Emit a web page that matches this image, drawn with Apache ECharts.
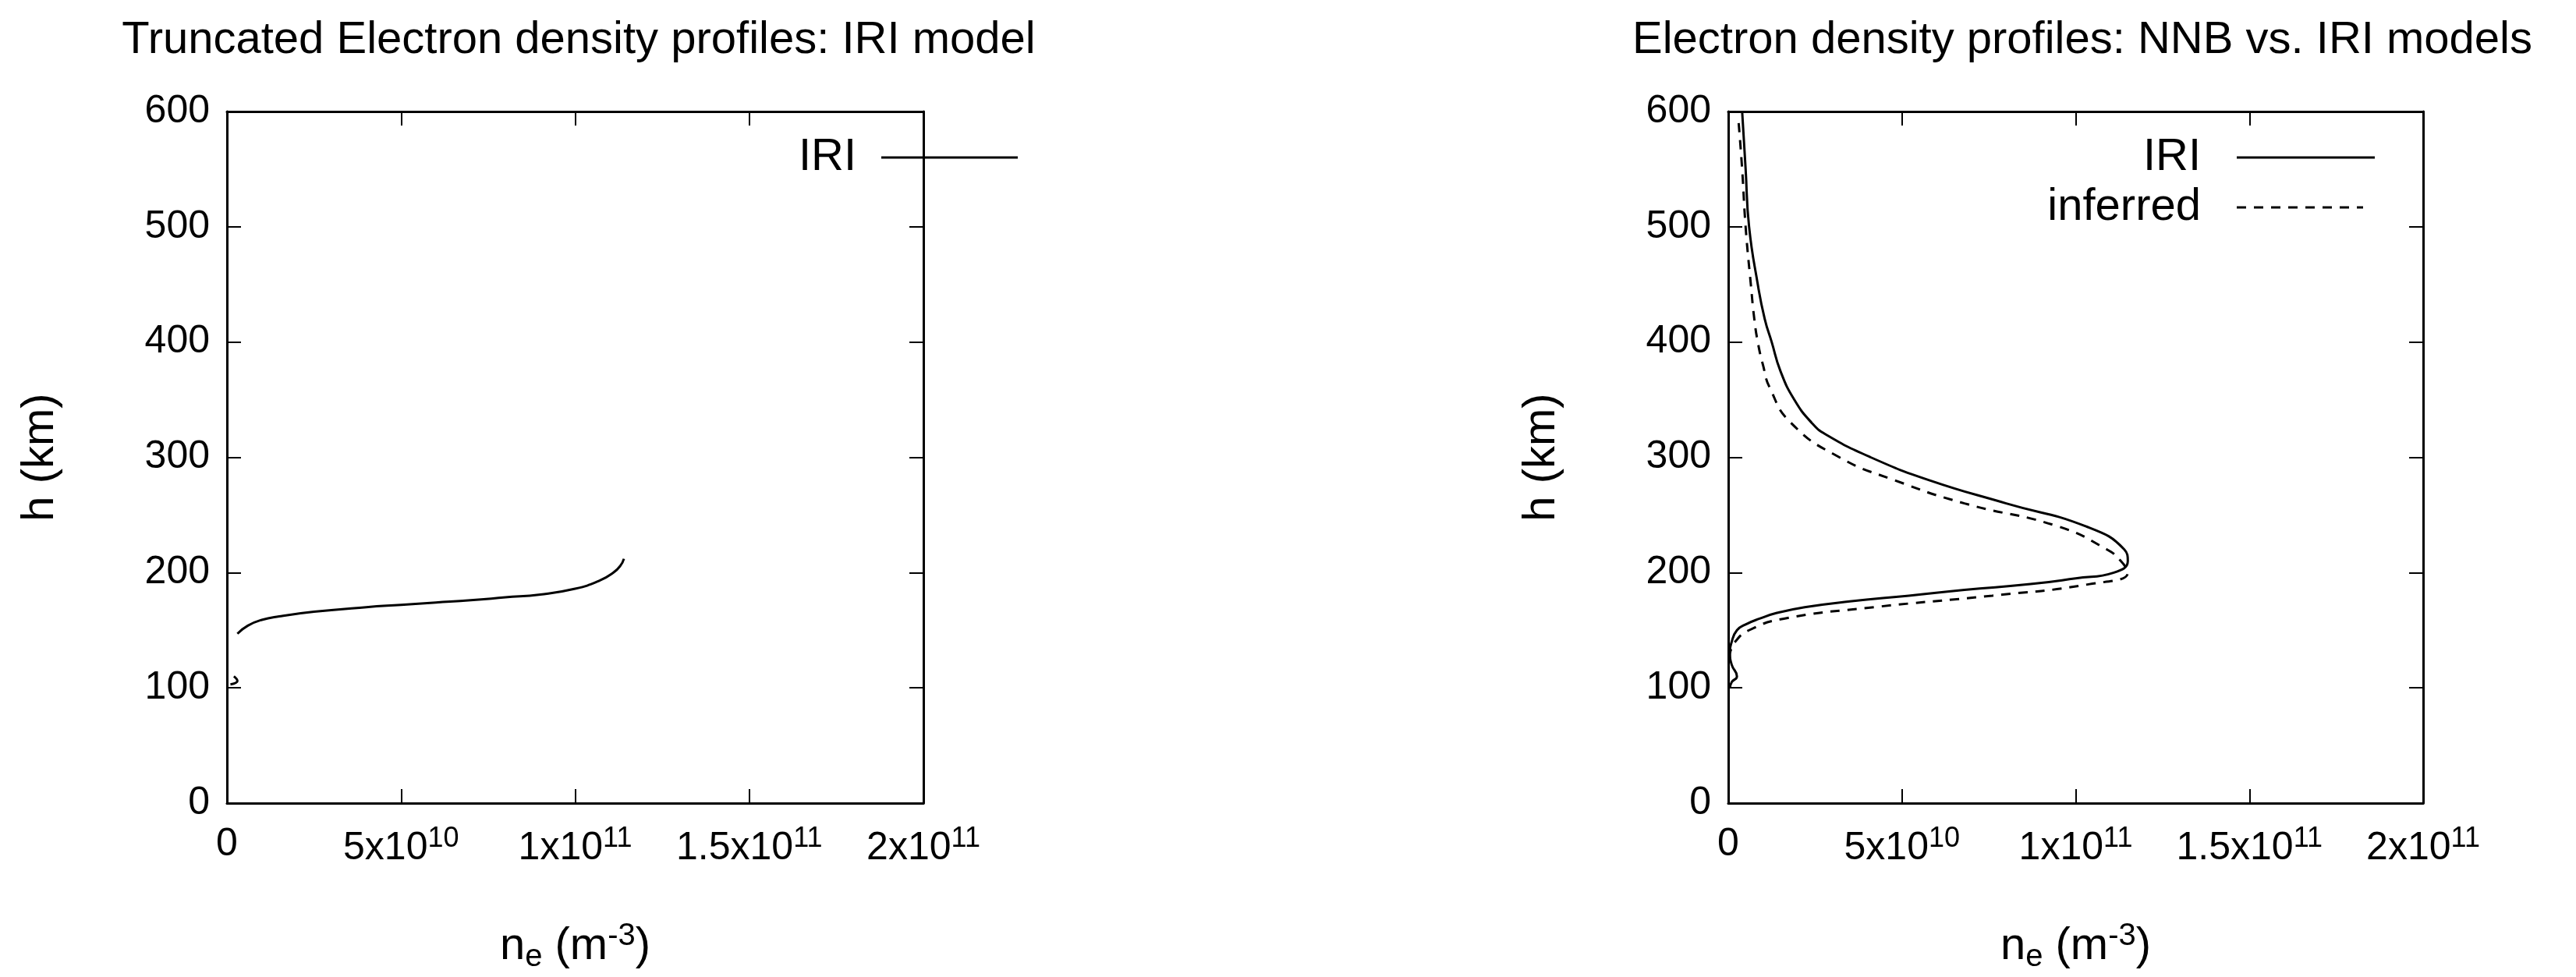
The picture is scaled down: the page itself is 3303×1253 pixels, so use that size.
<!DOCTYPE html>
<html><head><meta charset="utf-8">
<script src="https://cdn.jsdelivr.net/npm/echarts@6/dist/echarts.min.js"></script>
<style>html,body{margin:0;background:#fff}#c{width:3303px;height:1253px}</style>
</head><body><div id="c"></div>
<script>
const xTicks = [0, 5e10, 1e11, 1.5e11, 2e11];
const xTickLabels = ['0', '5x10{s|10}', '1x10{s|11}', '1.5x10{s|11}', '2x10{s|11}'];
// [n_e in units of 1e10 m^-3, h km]
const truncIRI = [[0.1,103],[0.3,106],[0.2,110],null,[0.3,147],[0.6,154],[1,159],[1.5,162],[2.5,166],[4,170],[5,172],[6,174],[7,176],[8,178.5],[9,181],[10,186],[10.7,193],[11.1,200],[11.3,206],[11.4,212]];
const iriH =   [600,550,500,450,420,400,375,350,330,320,300,280,260,240,220,210,200,195,190,185,180,175,170,165,160,155,150,140,130,120,110,105,100];
const iriNe =  [0.4,0.5,0.6,0.85,1.05,1.25,1.5,1.9,2.4,2.8,4.1,5.8,8.0,10.3,11.4,11.5,11.1,10.0,8.7,6.8,5.2,3.5,2.2,1.4,0.9,0.5,0.25,0.1,0.05,0.1,0.25,0.1,0.05];
const infH =   [590,550,500,450,420,400,380,360,330,300,280,260,240,220,210,200,190,180,170,160,150,140,130];
const infNe =  [0.3,0.4,0.5,0.65,0.75,0.85,1.0,1.2,1.8,3.2,4.8,6.8,9.5,10.9,11.3,11.5,10.4,7.6,4.2,1.6,0.6,0.2,0.05];

const F = 'Liberation Sans, Arial, sans-serif';
const fs = 50, fsT = 58, fsS = 36;
const toPts = (ne, h) => ne.map((v, i) => [v * 1e10, h[i]]);
const trunc = truncIRI.map(p => p ? [p[0] * 1e10, p[1]] : [null, null]);

function xFmt(v) { const i = xTicks.indexOf(v); return i >= 0 ? xTickLabels[i] : ''; }
const grids = [
  {left: 291, top: 143, width: 893, height: 889},
  {left: 2216, top: 143, width: 891, height: 889}
];
const tick = {inside: true, length: 18, lineStyle: {color: '#000', width: 2}};
const aline = {show: true, onZero: false, lineStyle: {color: '#000', width: 3}};
const xAxes = [], yAxes = [];
grids.forEach((g, gi) => {
  xAxes.push({type: 'value', gridIndex: gi, position: 'bottom', min: 0, max: 2e11, interval: 5e10,
    axisLine: aline, axisTick: tick, splitLine: {show: false},
    axisLabel: {formatter: xFmt, color: '#000', fontFamily: F, fontSize: fs, margin: 28,
      rich: {s: {fontSize: fsS, verticalAlign: 'top', padding: [0, 0, 24, 0], fontFamily: F, color: '#000'}}},
    name: 'n{b|e} (m{s|-3})', nameLocation: 'middle', nameGap: 150,
    nameTextStyle: {color: '#000', fontFamily: F, fontSize: fsT,
      rich: {b: {fontSize: 40, padding: [28, 0, 0, 0], fontFamily: F, color: '#000'},
             s: {fontSize: 40, padding: [0, 0, 26, 0], fontFamily: F, color: '#000'}}}});
  xAxes.push({type: 'value', gridIndex: gi, position: 'top', min: 0, max: 2e11, interval: 5e10,
    axisLine: aline, axisTick: tick, axisLabel: {show: false}, splitLine: {show: false}});
  yAxes.push({type: 'value', gridIndex: gi, position: 'left', min: 0, max: 600, interval: 100,
    axisLine: aline, axisTick: tick, splitLine: {show: false},
    axisLabel: {color: '#000', fontFamily: F, fontSize: fs, margin: 22},
    name: 'h (km)', nameLocation: 'middle', nameGap: 210, nameRotate: 90,
    nameTextStyle: {color: '#000', fontFamily: F, fontSize: fsT}});
  yAxes.push({type: 'value', gridIndex: gi, position: 'right', min: 0, max: 600, interval: 100,
    axisLine: aline, axisTick: tick, axisLabel: {show: false}, splitLine: {show: false}});
});
const lineBase = {type: 'line', showSymbol: false, symbol: 'none', smooth: 0.5, animation: false};
const tx = (t, x, y) => ({type: 'text', x: x, y: y, style: {text: t, fontFamily: F, fontSize: fsT, fill: '#000', align: 'right', verticalAlign: 'middle'}});
const ln = (x1, x2, y, dash) => ({type: 'line', shape: {x1: x1, y1: y, x2: x2, y2: y}, style: {stroke: '#000', lineWidth: 3, lineDash: dash || null}});
const chart = echarts.init(document.getElementById('c'));
chart.setOption({
  backgroundColor: '#fff',
  title: [
    {text: 'Truncated Electron density profiles: IRI model', left: 737, top: 18, textAlign: 'center',
     textStyle: {fontFamily: F, fontSize: fsT, fontWeight: 'normal', color: '#000'}},
    {text: 'Electron density profiles: NNB vs. IRI models', left: 2665, top: 18, textAlign: 'center',
     textStyle: {fontFamily: F, fontSize: fsT, fontWeight: 'normal', color: '#000'}}
  ],
  graphic: [
    tx('IRI', 1098, 202), ln(1130, 1305, 202),
    tx('IRI', 2822, 202), ln(2868, 3045, 202),
    tx('inferred', 2822, 266), ln(2868, 3030, 266, [12, 10])
  ],
  grid: grids, xAxis: xAxes, yAxis: yAxes,
  series: [
    Object.assign({}, lineBase, {name: 'IRI', xAxisIndex: 0, yAxisIndex: 0, data: trunc, connectNulls: false,
      lineStyle: {color: '#000', width: 3}}),
    Object.assign({}, lineBase, {name: 'IRI ', xAxisIndex: 2, yAxisIndex: 2, data: toPts(iriNe, iriH),
      lineStyle: {color: '#000', width: 3}}),
    Object.assign({}, lineBase, {name: 'inferred', xAxisIndex: 2, yAxisIndex: 2, data: toPts(infNe, infH),
      lineStyle: {color: '#000', width: 3, type: [12, 10]}})
  ]
});
</script></body></html>
